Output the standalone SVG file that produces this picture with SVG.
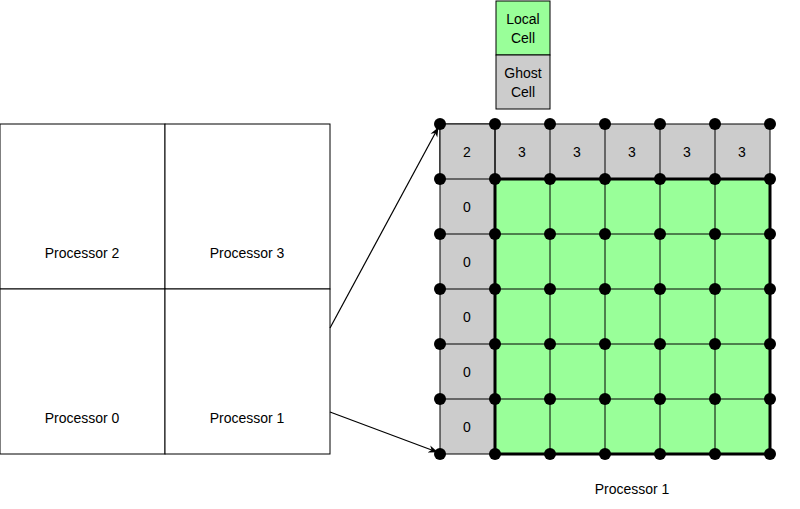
<svg xmlns="http://www.w3.org/2000/svg" width="800" height="509" viewBox="0 0 800 509">
<defs>
<style>
text{font-family:"Liberation Sans",Arial,sans-serif;font-size:14px;fill:#000;text-anchor:middle;dominant-baseline:central}
.g{fill:#cccccc;stroke:#000;stroke-width:1}
.l{fill:#99ff99;stroke:#000;stroke-width:1}
.w{fill:#fff;stroke:#000;stroke-width:1}
.c{stroke:#000;stroke-width:1.2;fill:none}
</style>
<marker id="a" viewBox="0 0 10 10" refX="9" refY="5" markerWidth="8" markerHeight="8" orient="auto"><path d="M0,1 L10,5 L0,9 L3,5 Z" fill="#000"/></marker>
<circle id="d" r="6" fill="#000"/>
</defs>
<g id="legend">
<rect class="l" x="496" y="1" width="54" height="54"/><text x="523" y="19">Local</text><text x="523" y="38">Cell</text>
<rect class="g" x="496" y="55" width="54" height="54"/><text x="523" y="73">Ghost</text><text x="523" y="92">Cell</text>
</g>
<g id="processors">
<rect class="w" x="0" y="124" width="165" height="165"/><text x="82" y="253">Processor 2</text>
<rect class="w" x="165" y="124" width="165" height="165"/><text x="247" y="253">Processor 3</text>
<rect class="w" x="0" y="289" width="165" height="165"/><text x="82" y="418">Processor 0</text>
<rect class="w" x="165" y="289" width="165" height="165"/><text x="247" y="418">Processor 1</text>
</g>
<g id="grid">
<rect class="g" x="440" y="124" width="330" height="55"/>
<rect class="g" x="440" y="124" width="55" height="330"/>
<rect class="l" x="495" y="179" width="275" height="275"/>
<path d="M495,124V454M550,124V454M605,124V454M660,124V454M715,124V454M440,179H770M440,234H770M440,289H770M440,344H770M440,399H770" stroke="#000" stroke-width="1"/>
<rect x="495" y="179" width="275" height="275" fill="none" stroke="#000" stroke-width="3"/>
<text x="467" y="152">2</text><text x="522" y="152">3</text><text x="577" y="152">3</text><text x="632" y="152">3</text><text x="687" y="152">3</text><text x="742" y="152">3</text>
<text x="467" y="207">0</text><text x="467" y="262">0</text><text x="467" y="317">0</text><text x="467" y="372">0</text><text x="467" y="427">0</text>
<text x="632" y="489">Processor 1</text>
</g>
<g id="dots">
<use href="#d" x="440" y="124"/><use href="#d" x="495" y="124"/><use href="#d" x="550" y="124"/><use href="#d" x="605" y="124"/><use href="#d" x="660" y="124"/><use href="#d" x="715" y="124"/><use href="#d" x="770" y="124"/>
<use href="#d" x="440" y="179"/><use href="#d" x="495" y="179"/><use href="#d" x="550" y="179"/><use href="#d" x="605" y="179"/><use href="#d" x="660" y="179"/><use href="#d" x="715" y="179"/><use href="#d" x="770" y="179"/>
<use href="#d" x="440" y="234"/><use href="#d" x="495" y="234"/><use href="#d" x="550" y="234"/><use href="#d" x="605" y="234"/><use href="#d" x="660" y="234"/><use href="#d" x="715" y="234"/><use href="#d" x="770" y="234"/>
<use href="#d" x="440" y="289"/><use href="#d" x="495" y="289"/><use href="#d" x="550" y="289"/><use href="#d" x="605" y="289"/><use href="#d" x="660" y="289"/><use href="#d" x="715" y="289"/><use href="#d" x="770" y="289"/>
<use href="#d" x="440" y="344"/><use href="#d" x="495" y="344"/><use href="#d" x="550" y="344"/><use href="#d" x="605" y="344"/><use href="#d" x="660" y="344"/><use href="#d" x="715" y="344"/><use href="#d" x="770" y="344"/>
<use href="#d" x="440" y="399"/><use href="#d" x="495" y="399"/><use href="#d" x="550" y="399"/><use href="#d" x="605" y="399"/><use href="#d" x="660" y="399"/><use href="#d" x="715" y="399"/><use href="#d" x="770" y="399"/>
<use href="#d" x="440" y="454"/><use href="#d" x="495" y="454"/><use href="#d" x="550" y="454"/><use href="#d" x="605" y="454"/><use href="#d" x="660" y="454"/><use href="#d" x="715" y="454"/><use href="#d" x="770" y="454"/>
</g>
<g id="connectors">
<line class="c" x1="330" y1="328" x2="438" y2="128" marker-end="url(#a)"/>
<line class="c" x1="330" y1="412" x2="437" y2="452" marker-end="url(#a)"/>
</g>
</svg>
